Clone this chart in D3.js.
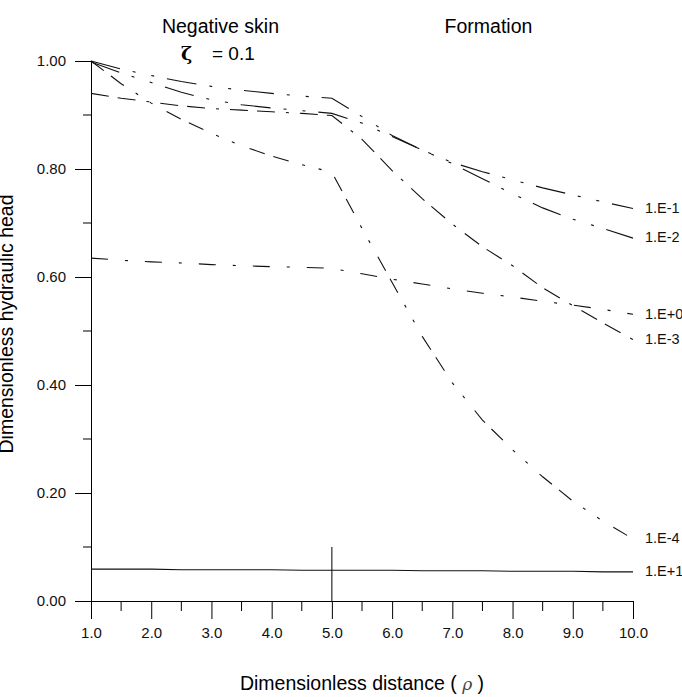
<!DOCTYPE html>
<html>
<head>
<meta charset="utf-8">
<script src="https://cdn.jsdelivr.net/npm/d3@7"></script>
<style>
  body { margin: 0; background: #fff; }
  svg { display: block; font-family: "Liberation Sans", Arial, sans-serif; }
</style>
</head>
<body>
<svg></svg>
<script>
// chart data
var rho = [1.0, 1.5, 2.0, 2.5, 3.0, 3.5, 4.0, 4.5, 5.0, 5.5, 6.0, 6.5, 7.0, 7.5, 8.0, 8.5, 9.0, 9.5, 10.0];
var seriesNames = ["1.E-1", "1.E-2", "1.E+0", "1.E-3", "1.E-4", "1.E+1"];
var headE1m = [1.000, 0.985, 0.973, 0.962, 0.953, 0.946, 0.940, 0.935, 0.931, 0.897, 0.862, 0.835, 0.812, 0.795, 0.780, 0.765, 0.752, 0.739, 0.727];
var headE2m = [0.998, 0.978, 0.960, 0.942, 0.928, 0.919, 0.913, 0.908, 0.903, 0.885, 0.860, 0.835, 0.810, 0.782, 0.754, 0.728, 0.707, 0.690, 0.672];
var headE0  = [0.635, 0.631, 0.628, 0.626, 0.623, 0.621, 0.619, 0.618, 0.616, 0.606, 0.596, 0.587, 0.578, 0.570, 0.563, 0.555, 0.548, 0.540, 0.531];
var headE3m = [0.940, 0.931, 0.924, 0.917, 0.912, 0.909, 0.906, 0.903, 0.899, 0.855, 0.797, 0.745, 0.698, 0.656, 0.621, 0.580, 0.547, 0.515, 0.484];
var headE4m = [1.000, 0.958, 0.922, 0.892, 0.866, 0.843, 0.824, 0.808, 0.794, 0.690, 0.590, 0.490, 0.404, 0.335, 0.280, 0.230, 0.185, 0.148, 0.115];
var headE1p = [0.059, 0.059, 0.059, 0.058, 0.058, 0.058, 0.058, 0.057, 0.057, 0.057, 0.057, 0.056, 0.056, 0.056, 0.055, 0.055, 0.055, 0.054, 0.054];
var xTicks = [1, 2, 3, 4, 5, 6, 7, 8, 9, 10];
var yTicks = [0, 0.2, 0.4, 0.6, 0.8, 1.0];
var skinRadius = 5.0;   // boundary of the skin zone
var markerHeight = 0.1; // height of the boundary marker

var allSeries = [headE1m, headE2m, headE0, headE3m, headE4m, headE1p];

// line styles, one per series
var dashes = [
    "30,13,3,16,3,13",
    "30,13,3,16,3,13",
    "17,17,3,17",
    "18,9,18,11,3,11",
    "16,9,16,14,3,14,3,16",
    null
];

var w = 682, h = 697;
var margin = { top: 61, right: 49, bottom: 96, left: 91 };

var svg = d3.select("svg")
    .attr("width", w)
    .attr("height", h);

var x = d3.scaleLinear().domain([1, 10]).range([margin.left, w - margin.right]);
var y = d3.scaleLinear().domain([0, 1]).range([h - margin.bottom, margin.top]);

// x axis: major ticks every 1, minor every 0.5
var xAxis = svg.append("g")
    .attr("transform", "translate(0," + y(0) + ")")
    .call(d3.axisBottom(x).tickValues(xTicks).tickSize(18).tickSizeOuter(0)
        .tickFormat(d3.format(".1f")));
xAxis.selectAll("text").attr("dy", 0).attr("y", 37).attr("fill", "#111").style("font-size", "15px");
xAxis.append("g").selectAll("line")
    .data(d3.range(1.5, 10, 1))
    .enter().append("line")
    .attr("x1", d => x(d)).attr("x2", d => x(d))
    .attr("y1", 0).attr("y2", 10)
    .attr("stroke", "#000");

// y axis: major ticks every 0.2, minor every 0.1
var yAxis = svg.append("g")
    .attr("transform", "translate(" + x(1) + ",0)")
    .call(d3.axisLeft(y).tickValues(yTicks).tickSize(16).tickSizeOuter(0)
        .tickFormat(d3.format(".2f")));
yAxis.selectAll("text").attr("x", -25).attr("fill", "#111").style("font-size", "15px");
yAxis.append("g").selectAll("line")
    .data([0.1, 0.3, 0.5, 0.7, 0.9])
    .enter().append("line")
    .attr("x1", -8).attr("x2", 0)
    .attr("y1", d => y(d)).attr("y2", d => y(d))
    .attr("stroke", "#000");

svg.selectAll(".domain").attr("stroke", "#000");

// curves
var line = d3.line()
    .x((d, i) => x(rho[i]))
    .y(d => y(d));

svg.append("g").selectAll("path")
    .data(allSeries)
    .enter().append("path")
    .attr("d", line)
    .attr("fill", "none")
    .attr("stroke", "#111")
    .attr("stroke-width", 1.1)
    .attr("stroke-dasharray", (d, i) => dashes[i]);

// series labels at right end
svg.append("g").selectAll("text")
    .data(allSeries)
    .enter().append("text")
    .attr("x", x(10) + 12)
    .attr("y", d => y(d[d.length - 1]))
    .attr("dy", "0.3em")
    .attr("fill", "#111")
    .style("font-size", "14.5px")
    .text((d, i) => seriesNames[i]);

// skin boundary marker
svg.append("line")
    .attr("x1", x(skinRadius)).attr("x2", x(skinRadius))
    .attr("y1", y(0)).attr("y2", y(markerHeight))
    .attr("stroke", "#000");

// zone titles
svg.append("text")
    .attr("x", x(3.15)).attr("y", 33)
    .attr("text-anchor", "middle")
    .style("font-size", "19.5px")
    .text("Negative skin");
svg.append("text")
    .attr("x", x(7.6)).attr("y", 33)
    .attr("text-anchor", "middle")
    .style("font-size", "19.5px")
    .text("Formation");

var zeta = svg.append("text")
    .attr("x", 181).attr("y", 60)
    .style("font-size", "19px");
zeta.append("tspan").style("font-weight", "bold").style("font-family", "DejaVu Serif, serif").text("ζ");
zeta.append("tspan").attr("x", 212).text("= 0.1");

// axis titles
var xt = svg.append("text")
    .attr("x", 362).attr("y", 690)
    .attr("text-anchor", "middle")
    .style("font-size", "19.5px");
xt.append("tspan").text("Dimensionless distance (  ");
xt.append("tspan").style("font-style", "italic").style("font-family", "DejaVu Serif, serif")
    .style("font-size", "17px").attr("fill", "#444").text("ρ");
xt.append("tspan").text(" )");

svg.append("text")
    .attr("transform", "translate(13," + 324 + ") rotate(-90)")
    .attr("text-anchor", "middle")
    .style("font-size", "19.5px")
    .text("Dimensionless hydraulic head");
</script>
</body>
</html>
